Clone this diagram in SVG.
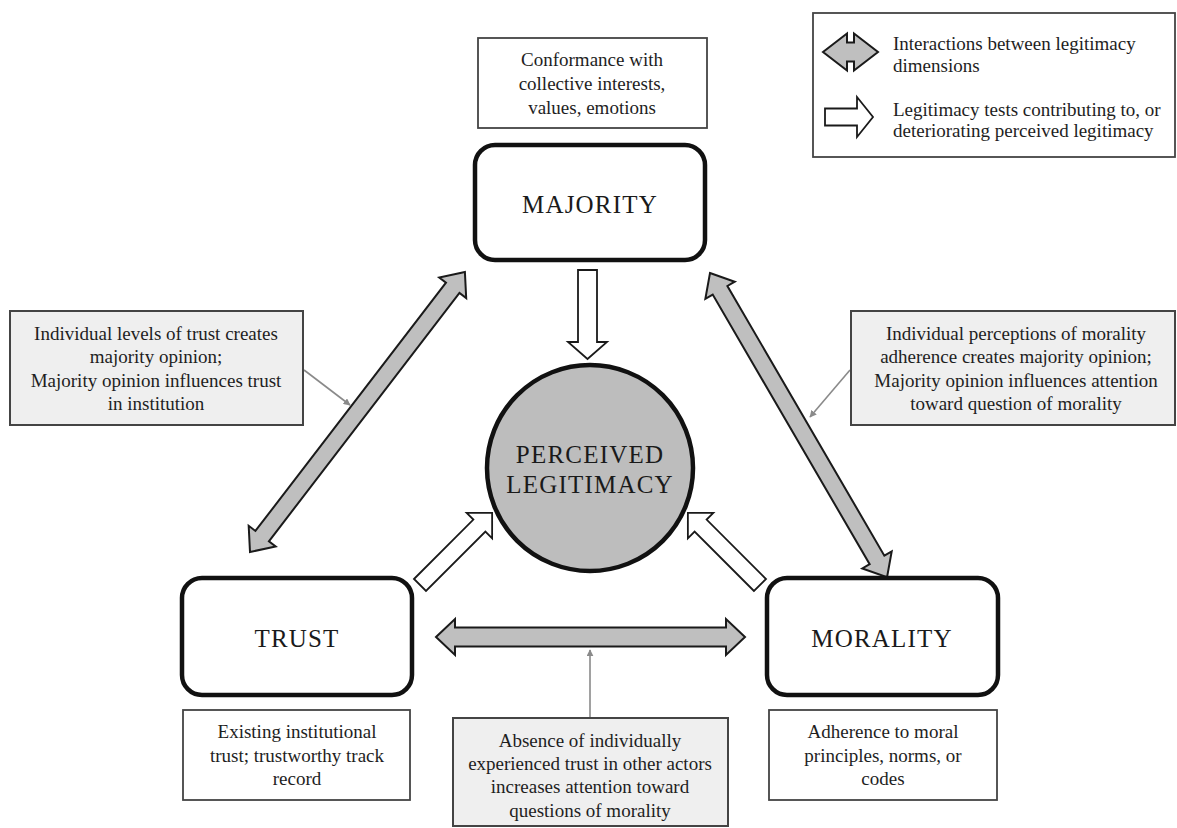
<svg xmlns="http://www.w3.org/2000/svg" width="1177" height="828" viewBox="0 0 1177 828">
  <defs>
    <style>
      .txt { font-family: "Liberation Serif", "DejaVu Serif", serif; font-size: 19px; fill: #1e1e1e; text-anchor: middle; }
      .lg { font-family: "Liberation Serif", "DejaVu Serif", serif; font-size: 19px; fill: #1e1e1e; }
      .title { font-family: "Liberation Serif", "DejaVu Serif", serif; font-size: 25px; fill: #1a1a1a; text-anchor: middle; letter-spacing: 1.2px; }
      .node { fill: #fff; stroke: #111; stroke-width: 4.5; }
      .desc { fill: #fff; stroke: #444; stroke-width: 1.8; }
      .note { fill: #efefef; stroke: #444; stroke-width: 2; }
      .inter { fill: #bfbfbf; stroke: #1a1a1a; stroke-width: 2; stroke-linejoin: miter; }
      .test { fill: #fff; stroke: #1a1a1a; stroke-width: 1.8; stroke-linejoin: miter; }
      .ptr { stroke: #8a8a8a; stroke-width: 1.6; fill: none; }
    </style>
    <marker id="ptrHead" viewBox="0 0 10 10" refX="9" refY="5" markerWidth="7" markerHeight="7" orient="auto" markerUnits="userSpaceOnUse">
      <path d="M0,0 L10,5 L0,10 z" fill="#8a8a8a"/>
    </marker>
  </defs>

  <rect width="1177" height="828" fill="#fff"/>

  <!-- Legend -->
  <g id="legend">
    <rect x="813" y="13" width="362" height="144" fill="#fff" stroke="#444" stroke-width="1.8"/>
    <polygon class="inter" points="823,52 847,33.5 847,42.5 854,42.5 854,33.5 878,52 854,70.5 854,61.5 847,61.5 847,70.5"/>
    <text class="lg" x="893" y="50">Interactions between legitimacy</text>
    <text class="lg" x="893" y="72">dimensions</text>
    <polygon class="test" points="825,108.5 857,108.5 857,97 873,117 857,137 857,125.5 825,125.5"/>
    <text class="lg" x="893" y="116">Legitimacy tests contributing to, or</text>
    <text class="lg" x="893" y="137">deteriorating perceived legitimacy</text>
  </g>

  <!-- Connectors -->
  <g id="connectors">
    <!-- interactions between dimensions -->
    <g transform="translate(250,552) rotate(-52.5)">
      <polygon class="inter" points="0,0 20,-17 20,-8.5 333,-8.5 333,-17 353,0 333,17 333,8.5 20,8.5 20,17"/>
    </g>
    <g transform="translate(710,273) rotate(59.8)">
      <polygon class="inter" points="0,0 20,-17 20,-8.5 332,-8.5 332,-17 352,0 332,17 332,8.5 20,8.5 20,17"/>
    </g>
    <polygon class="inter" points="436,637 455,619 455,627.5 726,627.5 726,619 745,637 726,655 726,646.5 455,646.5 455,655"/>

    <!-- legitimacy tests -->
    <g transform="translate(587.5,270) rotate(90)">
      <polygon class="test" points="0,-9.5 72,-9.5 72,-19.5 89,0 72,19.5 72,9.5 0,9.5"/>
    </g>
    <g transform="translate(420,585) rotate(-45)">
      <polygon class="test" points="0,-8.5 84,-8.5 84,-18 102,0 84,18 84,8.5 0,8.5"/>
    </g>
    <g transform="translate(760,585) rotate(-135)">
      <polygon class="test" points="0,-8.5 84,-8.5 84,-18 102,0 84,18 84,8.5 0,8.5"/>
    </g>

    <!-- annotation pointers -->
    <line class="ptr" x1="304" y1="370" x2="350" y2="405" marker-end="url(#ptrHead)"/>
    <line class="ptr" x1="850" y1="370" x2="810" y2="417" marker-end="url(#ptrHead)"/>
    <line class="ptr" x1="590" y1="717" x2="590" y2="650" marker-end="url(#ptrHead)"/>
  </g>

  <!-- Majority -->
  <g id="majority-desc">
    <rect class="desc" x="478" y="38" width="229" height="90"/>
    <text class="txt" x="592" y="66">Conformance with</text>
    <text class="txt" x="592" y="90">collective interests,</text>
    <text class="txt" x="592" y="114">values, emotions</text>
  </g>
  <g id="majority">
    <rect class="node" x="475" y="145" width="230" height="115" rx="20"/>
    <text class="title" x="590" y="213">MAJORITY</text>
  </g>

  <!-- Perceived legitimacy -->
  <g id="perceived-legitimacy">
    <circle cx="590" cy="468" r="103" fill="#bdbdbd" stroke="#111" stroke-width="4.5"/>
    <text class="title" x="590" y="463">PERCEIVED</text>
    <text class="title" x="590" y="493">LEGITIMACY</text>
  </g>

  <!-- Trust -->
  <g id="trust">
    <rect class="node" x="182" y="578" width="230" height="117" rx="20"/>
    <text class="title" x="297" y="647">TRUST</text>
  </g>
  <g id="trust-desc">
    <rect class="desc" x="183" y="710" width="227" height="90"/>
    <text class="txt" x="297" y="738">Existing institutional</text>
    <text class="txt" x="297" y="762">trust; trustworthy track</text>
    <text class="txt" x="297" y="785">record</text>
  </g>

  <!-- Morality -->
  <g id="morality">
    <rect class="node" x="767" y="578" width="231" height="117" rx="20"/>
    <text class="title" x="882" y="647">MORALITY</text>
  </g>
  <g id="morality-desc">
    <rect class="desc" x="769" y="710" width="228" height="90"/>
    <text class="txt" x="883" y="738">Adherence to moral</text>
    <text class="txt" x="883" y="762">principles, norms, or</text>
    <text class="txt" x="883" y="785">codes</text>
  </g>

  <!-- Notes on interactions -->
  <g id="note-trust-majority">
    <rect class="note" x="10" y="311" width="293" height="114"/>
    <text class="txt" x="156" y="340">Individual levels of trust creates</text>
    <text class="txt" x="156" y="363">majority opinion;</text>
    <text class="txt" x="156" y="387">Majority opinion influences trust</text>
    <text class="txt" x="156" y="410">in institution</text>
  </g>
  <g id="note-morality-majority">
    <rect class="note" x="851" y="311" width="324" height="114"/>
    <text class="txt" x="1016" y="340">Individual perceptions of morality</text>
    <text class="txt" x="1016" y="363">adherence creates majority opinion;</text>
    <text class="txt" x="1016" y="387">Majority opinion influences attention</text>
    <text class="txt" x="1016" y="410">toward question of morality</text>
  </g>
  <g id="note-trust-morality">
    <rect class="note" x="453" y="718" width="275" height="108"/>
    <text class="txt" x="590" y="747">Absence of individually</text>
    <text class="txt" x="590" y="770">experienced trust in other actors</text>
    <text class="txt" x="590" y="793">increases attention toward</text>
    <text class="txt" x="590" y="817">questions of morality</text>
  </g>
</svg>
